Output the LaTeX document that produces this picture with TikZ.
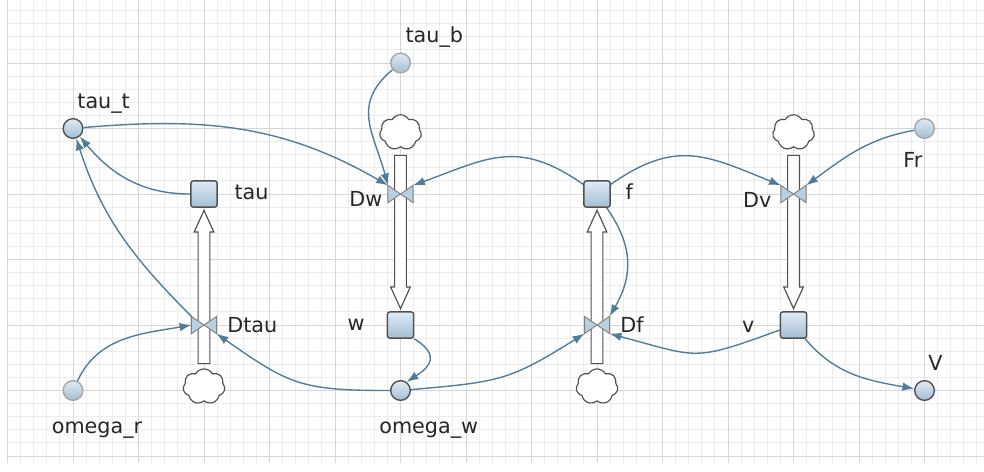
\documentclass[tikz,border=0pt]{standalone}
\usepackage{fontspec}
\setmainfont{DejaVu Sans}
\usetikzlibrary{positioning,shapes.symbols,arrows.meta}

\definecolor{gridminor}{RGB}{236,236,236}
\definecolor{gridmajor}{RGB}{214,214,214}
\definecolor{linkblue}{RGB}{80,124,156}
\definecolor{edgegray}{RGB}{80,80,80}
\definecolor{boxtop}{RGB}{224,235,245}
\definecolor{boxbottom}{RGB}{163,189,211}
\definecolor{valvefill}{RGB}{184,207,224}

\tikzset{
  stock/.style={rectangle, rounded corners=1pt, minimum size=0.4cm, inner sep=0,
    draw=edgegray, line width=0.6pt, top color=boxtop, bottom color=boxbottom},
  aux/.style={circle, minimum size=0.3cm, inner sep=0, draw=edgegray,
    line width=0.6pt, top color=boxtop, bottom color=boxbottom},
  param/.style={aux, draw=black!35},
  valve/.style={rectangle, minimum width=0.37cm, minimum height=0.25cm, inner sep=0},
  source/.style={cloud, cloud puffs=7, cloud puff arc=120, cloud ignores aspect,
    minimum width=0.64cm, minimum height=0.54cm, inner sep=0,
    draw=edgegray, line width=0.5pt, fill=white},
  pipe/.style={draw=edgegray, line width=0.5pt, fill=white},
  link/.style={draw=linkblue, line width=0.6pt, -{Latex[length=1.8mm, width=1.3mm]}},
  lbl/.style={font=\fontsize{9}{11}\selectfont, text=black!85, inner sep=0},
}

% #1 cloud node, #2 = 1 for upward flow, -1 for downward flow
\newcommand{\flowpipe}[2]{%
  \draw[pipe] (#1.center) ++(-0.09,{#2*0.35}) -- ++(0,{#2*2.01}) -- ++(-0.06,0)
    -- ++(0.15,{#2*0.33}) -- ++(0.15,{-#2*0.33}) -- ++(-0.06,0)
    -- ++(0,{-#2*2.01}) -- cycle;}

\begin{document}
\begin{tikzpicture}[node distance=1cm and 1cm, on grid]
\useasboundingbox (-1.1145,-0.229) rectangle (13.908,6.962);
\begin{scope}
\clip (-1.01,-0.1) rectangle (13.908,6.962);
\draw[gridminor, line width=0.4pt, step=0.2] (-1.2,-0.2) grid (14,7);
\draw[gridmajor, line width=0.4pt, step=1] (-1.2,-0.2) grid (14,7);
\end{scope}

\node[aux] (taut) at (0,5) {};
\node[param, below=4 of taut] (omegar) {};
\node[stock] (tau) at (2,4) {};
\node[valve, below=2 of tau] (dtau) {};
\node[source, below=0.94 of dtau] (ctau) {};
\node[valve, right=3 of tau] (dw) {};
\node[param, above=2 of dw] (taub) {};
\node[source, above=0.94 of dw] (cw) {};
\node[stock, below=2 of dw] (w) {};
\node[aux, below=1 of w] (omegaw) {};
\node[stock, right=3 of dw] (f) {};
\node[valve, below=2 of f] (df) {};
\node[source, below=0.94 of df] (cf) {};
\node[valve, right=3 of f] (dv) {};
\node[source, above=0.94 of dv] (cv) {};
\node[stock, below=2 of dv] (v) {};
\node[param, above right=1 and 2 of dv] (fr) {};
\node[aux, below right=1 and 2 of v] (bigv) {};

\flowpipe{ctau}{1}
\flowpipe{cw}{-1}
\flowpipe{cf}{1}
\flowpipe{cv}{-1}

\foreach \vname in {dtau,dw,df,dv}
  \filldraw[fill=valvefill, draw=black!50, line width=0.4pt]
    (\vname.north west) -- (\vname.south east) -- (\vname.north east)
    -- (\vname.south west) -- cycle;

\node[lbl, anchor=base west] (taut-l) at ([shift={(0.06,0.31)}]taut.center) {tau\_t};
\node[lbl, anchor=base west] (omegar-l) at ([shift={(-0.33,-0.65)}]omegar.center) {omega\_r};
\node[lbl, anchor=base west] (tau-l) at ([shift={(0.46,-0.09)}]tau.center) {tau};
\node[lbl, anchor=base west] (dtau-l) at ([shift={(0.35,-0.11)}]dtau.center) {Dtau};
\node[lbl, anchor=base west] (taub-l) at ([shift={(0.07,0.31)}]taub.center) {tau\_b};
\node[lbl, anchor=base east] (dw-l) at ([shift={(-0.27,-0.19)}]dw.center) {Dw};
\node[lbl, anchor=base east] (w-l) at ([shift={(-0.54,-0.09)}]w.center) {w};
\node[lbl, anchor=base west] (omegaw-l) at ([shift={(-0.33,-0.65)}]omegaw.center) {omega\_w};
\node[lbl, anchor=base west] (f-l) at ([shift={(0.43,-0.09)}]f.center) {f};
\node[lbl, anchor=base west] (df-l) at ([shift={(0.35,-0.12)}]df.center) {Df};
\node[lbl, anchor=base east] (dv-l) at ([shift={(-0.33,-0.21)}]dv.center) {Dv};
\node[lbl, anchor=base west] (fr-l) at ([shift={(-0.33,-0.60)}]fr.center) {Fr};
\node[lbl, anchor=base east] (v-l) at ([shift={(-0.59,-0.11)}]v.center) {v};
\node[lbl, anchor=base west] (bigv-l) at ([shift={(0.05,0.31)}]bigv.center) {V};

\draw[link] (taut) to[out=5, in=150] (dw.north west);
\draw[link] (tau) to[out=180, in=-50] (taut);
\draw[link] (dtau.north west) to[out=135, in=-72] (taut);
\draw[link] (omegar) to[out=65, in=190] (dtau.west);
\draw[link] (omegaw) to[out=180, in=-35, looseness=1.25] (dtau.south east);
\draw[link] (taub) to[out=220, in=105, looseness=1.2] (dw.north west);
\draw[link] (f) to[out=145, in=20, looseness=1.2] (dw.north east);
\draw[link] (f) to[out=35, in=158, looseness=1.2] (dv.north west);
\draw[link] (fr) to[out=190, in=36] (dv.north east);
\draw[link] (f) to[out=-55, in=60, looseness=1.1] (df.north east);
\draw[link] (w.south east) .. controls +(0.4,-0.25) and +(0.36,0.23) .. (omegaw.55);
\draw[link] (omegaw) to[out=5, in=212, looseness=1.25] (df.south west);
\draw[link] (v) to[out=200, in=-15, looseness=1.4] (df.south east);
\draw[link] (v) to[out=-50, in=170] (bigv);
\end{tikzpicture}
\end{document}
